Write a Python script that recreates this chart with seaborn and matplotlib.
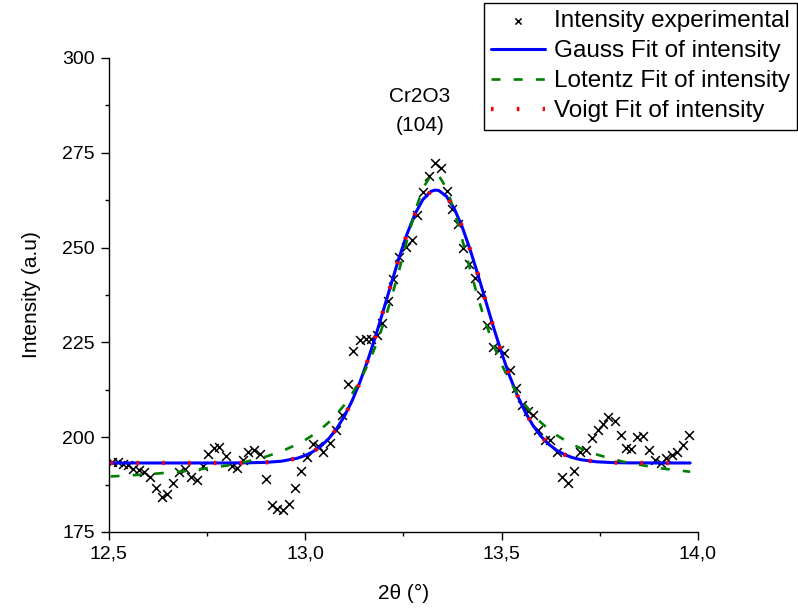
import matplotlib
matplotlib.use("Agg")
import matplotlib.pyplot as plt
import seaborn as sns
import pandas as pd
from matplotlib.ticker import MultipleLocator, FuncFormatter

# experimental points (2theta, intensity)
x_exp = [12.509, 12.524, 12.537, 12.550, 12.563, 12.577, 12.591, 12.605, 12.620, 12.635,
         12.649, 12.665, 12.679, 12.694, 12.709, 12.724, 12.739, 12.754, 12.767, 12.782,
         12.798, 12.813, 12.826, 12.841, 12.856, 12.870, 12.885, 12.900, 12.915, 12.929,
         12.943, 12.959, 12.974, 12.990, 13.004, 13.020, 13.034, 13.046, 13.063, 13.079,
         13.093, 13.109, 13.122, 13.139, 13.155, 13.168, 13.183, 13.197, 13.212, 13.225,
         13.240, 13.257, 13.271, 13.284, 13.301, 13.316, 13.331, 13.345, 13.360, 13.373,
         13.390, 13.403, 13.417, 13.432, 13.447, 13.463, 13.478, 13.494, 13.507, 13.521,
         13.537, 13.552, 13.568, 13.581, 13.594, 13.610, 13.623, 13.640, 13.654, 13.669,
         13.684, 13.700, 13.715, 13.729, 13.745, 13.759, 13.772, 13.789, 13.803, 13.817,
         13.830, 13.844, 13.859, 13.876, 13.890, 13.906, 13.918, 13.933, 13.947, 13.962,
         13.978]
y_exp = [193.5, 193.4, 193.0, 192.6, 191.7, 191.3, 190.8, 189.4, 186.5, 184.1,
         185.0, 187.8, 190.8, 191.5, 189.4, 188.7, 192.4, 195.5, 197.2, 197.3,
         195.1, 192.4, 192.0, 193.9, 196.1, 196.6, 195.5, 189.1, 182.1, 181.0,
         180.9, 182.3, 186.6, 191.0, 194.8, 198.1, 197.7, 196.1, 198.5, 202.0,
         205.8, 213.9, 222.7, 225.6, 225.8, 226.0, 227.0, 230.0, 236.0, 241.7,
         247.6, 250.2, 252.0, 258.6, 264.7, 268.9, 272.2, 270.9, 264.9, 260.3,
         256.2, 249.8, 245.8, 242.0, 237.6, 229.6, 223.8, 223.1, 222.3, 217.8,
         212.9, 208.4, 206.9, 205.8, 202.0, 199.2, 199.2, 196.1, 189.6, 187.8,
         191.2, 196.1, 196.5, 199.8, 201.9, 203.5, 205.3, 204.2, 200.5, 197.2,
         197.0, 200.0, 200.3, 196.7, 193.9, 193.3, 194.5, 195.4, 196.2, 197.9,
         200.6]

# fitted curves sampled along 2theta
x_fit = [12.505, 12.60, 12.70, 12.80, 12.85, 12.90, 12.94, 12.98, 13.00, 13.02,
         13.04, 13.06, 13.08, 13.10, 13.12, 13.14, 13.16, 13.18, 13.20, 13.22,
         13.24, 13.26, 13.28, 13.30, 13.32, 13.33, 13.34, 13.36, 13.38, 13.40,
         13.42, 13.44, 13.46, 13.48, 13.50, 13.52, 13.54, 13.56, 13.58, 13.60,
         13.62, 13.64, 13.66, 13.68, 13.70, 13.74, 13.78, 13.82, 13.90, 13.98]
y_gauss = [193.20, 193.20, 193.20, 193.21, 193.24, 193.36, 193.67, 194.45, 195.16, 196.18,
           197.61, 199.58, 202.18, 205.52, 209.67, 214.64, 220.40, 226.83, 233.71, 240.73,
           247.55, 253.74, 258.91, 262.69, 264.80, 265.15, 265.08, 263.51, 260.21, 255.42,
           249.49, 242.82, 235.82, 228.85, 222.27, 216.29, 211.07, 206.68, 203.10, 200.29,
           198.15, 196.56, 195.42, 194.63, 194.10, 193.53, 193.31, 193.23, 193.20, 193.20]
y_lorentz = [189.64, 190.21, 191.10, 192.50, 193.51, 194.86, 196.27, 198.12, 199.26, 200.57,
             202.10, 203.90, 206.02, 208.51, 211.48, 215.01, 219.21, 224.19, 230.05, 236.78,
             244.27, 252.12, 259.61, 265.65, 269.05, 269.50, 269.05, 265.65, 259.61, 252.12,
             244.27, 236.78, 230.05, 224.19, 219.21, 215.01, 211.48, 208.51, 206.02, 203.90,
             202.10, 200.57, 199.26, 198.12, 197.13, 195.52, 194.27, 193.29, 191.85, 190.89]
y_voigt = [193.20, 193.20, 193.20, 193.21, 193.24, 193.36, 193.67, 194.45, 195.16, 196.18,
           197.61, 199.58, 202.18, 205.52, 209.67, 214.64, 220.40, 226.83, 233.71, 240.73,
           247.55, 253.74, 258.91, 262.69, 264.80, 265.15, 265.08, 263.51, 260.21, 255.42,
           249.49, 242.82, 235.82, 228.85, 222.27, 216.29, 211.07, 206.68, 203.10, 200.29,
           198.15, 196.56, 195.42, 194.63, 194.10, 193.53, 193.31, 193.23, 193.20, 193.20]

labels = ["Intensity experimental", "Gauss Fit of intensity",
          "Lotentz Fit of intensity", "Voigt Fit of intensity"]

sns.set_theme(style="ticks")
plt.rcParams['font.family'] = ['Liberation Sans', 'DejaVu Sans']
plt.rcParams['mathtext.default'] = 'regular'

W, H = 798, 610
fig = plt.figure(figsize=(W / 100, H / 100), dpi=100)
L, R, T, B = 108.6, 698, 58, 532
ax = fig.add_axes([L / W, 1 - B / H, (R - L) / W, (B - T) / H])

df_exp = pd.DataFrame({"x": x_exp, "y": y_exp})
df_fit = pd.DataFrame({"x": x_fit, "g": y_gauss, "l": y_lorentz, "v": y_voigt})

sns.scatterplot(data=df_exp, x="x", y="y", marker="x", color="black", s=40,
                linewidth=1.1, ax=ax, label=labels[0], zorder=2)
sns.lineplot(data=df_fit, x="x", y="g", color="#0000ff", lw=2.2, ax=ax,
             label=labels[1], sort=False, estimator=None, zorder=3)
sns.lineplot(data=df_fit, x="x", y="l", color="#008000", lw=1.9,
             linestyle=(0, (3.4, 5.0)), ax=ax, label=labels[2], sort=False,
             estimator=None, zorder=4)
sns.lineplot(data=df_fit, x="x", y="v", color="#ff0000", lw=3.1,
             linestyle=(0, (0.6, 5.4)), ax=ax, label=labels[3], sort=False,
             estimator=None, zorder=5)

ax.set_xlim(12.5, 14.0)
ax.set_ylim(175, 300)
ax.xaxis.set_major_locator(MultipleLocator(0.5))
ax.xaxis.set_minor_locator(MultipleLocator(0.25))
ax.yaxis.set_major_locator(MultipleLocator(25))
ax.yaxis.set_minor_locator(MultipleLocator(12.5))
ax.xaxis.set_major_formatter(FuncFormatter(lambda v, p: f"{v:.1f}".replace(".", ",")))
ax.yaxis.set_major_formatter(FuncFormatter(lambda v, p: f"{v:.0f}"))

for s in ["top", "right"]:
    ax.spines[s].set_visible(False)
for s in ["left", "bottom"]:
    ax.spines[s].set_linewidth(1.0)
    ax.spines[s].set_color("black")
ax.tick_params(which="major", direction="out", length=6, width=1.0, colors="black",
               labelsize=14, pad=4)
ax.tick_params(which="minor", direction="out", length=3, width=1.0, colors="black")

ax.set_xlabel("2θ (°)", fontsize=15, color="black", labelpad=15)
ax.set_ylabel("Intensity (a.u)", fontsize=15, color="black", labelpad=15)

ax.text(13.292, 286.0, "Cr2O3\n(104)", ha="center", va="center", fontsize=15,
        linespacing=1.65, color="black")

leg = ax.legend(loc="upper right", bbox_to_anchor=(797 / W, 1 - 3 / H),
                bbox_transform=fig.transFigure, fontsize=17.5, frameon=True,
                fancybox=False, edgecolor="black", framealpha=1, borderpad=0.3,
                labelspacing=0.33, handlelength=2.2, handletextpad=0.37,
                borderaxespad=0, markerscale=0.7)
leg.get_frame().set_linewidth(1.0)
for t in leg.get_texts():
    t.set_color("black")

fig.savefig("out.png", dpi=100)
